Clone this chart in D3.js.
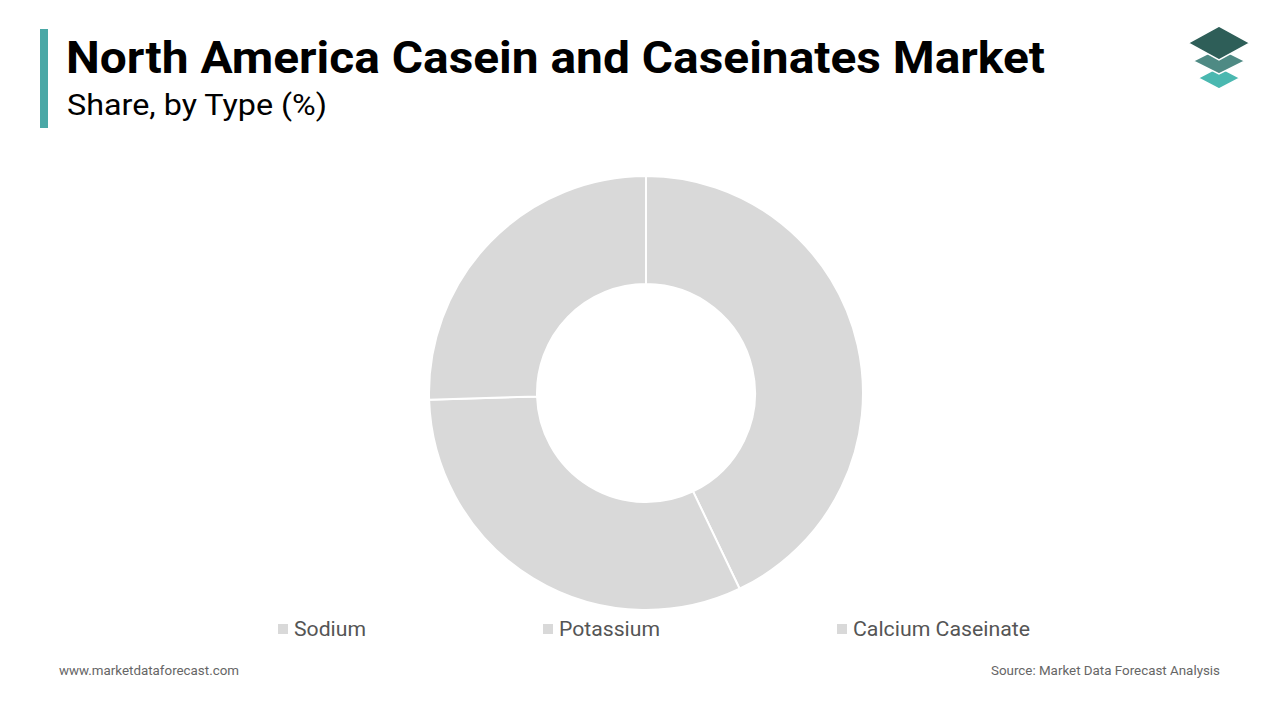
<!DOCTYPE html>
<html><head><meta charset="utf-8">
<script src="https://cdn.jsdelivr.net/npm/d3@7"></script>
<style>body{margin:0;background:#fff;font-family:Roboto,sans-serif}</style>
</head><body><svg id="c" width="1280" height="720"></svg>
<script>
const categories = ["Sodium", "Potassium", "Calcium Caseinate"];
const values = [42.9, 31.6, 25.5];
const colors = ["#d9d9d9", "#d9d9d9", "#d9d9d9"];

const svg = d3.select("#c");
svg.append("rect").attr("x",40).attr("y",29).attr("width",8).attr("height",99).attr("fill","#4aa8a6");
svg.append("text").attr("x",66).attr("y",73).attr("font-size",44).attr("font-weight",700).attr("fill","#000")
  .attr("textLength",979).attr("lengthAdjust","spacingAndGlyphs").text("North America Casein and Caseinates Market");
svg.append("text").attr("x",67).attr("y",115).attr("font-size",30).attr("fill","#000")
  .attr("textLength",260).attr("lengthAdjust","spacingAndGlyphs").text("Share, by Type (%)");

// logo
const lg = svg.append("g").attr("transform","translate(1219,40)");
const dia = (cy, w, h, c) => lg.append("path").attr("d",`M0,${cy-h}L${w},${cy}L0,${cy+h}L${-w},${cy}Z`).attr("fill",c).attr("stroke","#fff").attr("stroke-width",1.5);
dia(38, 21, 11, "#4ab8b0");
dia(21, 26, 13, "#4e8a84");
dia(3, 31, 17, "#2e5e58");

const pie = d3.pie().sort(null).value(d=>d)(values);
const arc = d3.arc().innerRadius(109).outerRadius(217);
svg.append("g").attr("transform","translate(646,393)")
  .selectAll("path").data(pie).join("path")
  .attr("d",arc).attr("fill",(d,i)=>colors[i]).attr("stroke","#fff").attr("stroke-width",2);

const lx = [278, 543, 837];
const lw = [72, 101, 177];
const leg = svg.append("g");
categories.forEach((c,i)=>{
  leg.append("rect").attr("x",lx[i]).attr("y",624).attr("width",10).attr("height",10).attr("fill",colors[i]);
  leg.append("text").attr("x",lx[i]+16).attr("y",636).attr("font-size",20.5).attr("fill","#555")
    .attr("textLength",lw[i]).attr("lengthAdjust","spacingAndGlyphs").text(c);
});
svg.append("text").attr("x",59).attr("y",675).attr("font-size",13).attr("fill","#666")
  .attr("textLength",180).attr("lengthAdjust","spacingAndGlyphs").text("www.marketdataforecast.com");
svg.append("text").attr("x",991).attr("y",675).attr("font-size",13).attr("fill","#666")
  .attr("textLength",229).attr("lengthAdjust","spacingAndGlyphs").text("Source: Market Data Forecast Analysis");
</script></body></html>
